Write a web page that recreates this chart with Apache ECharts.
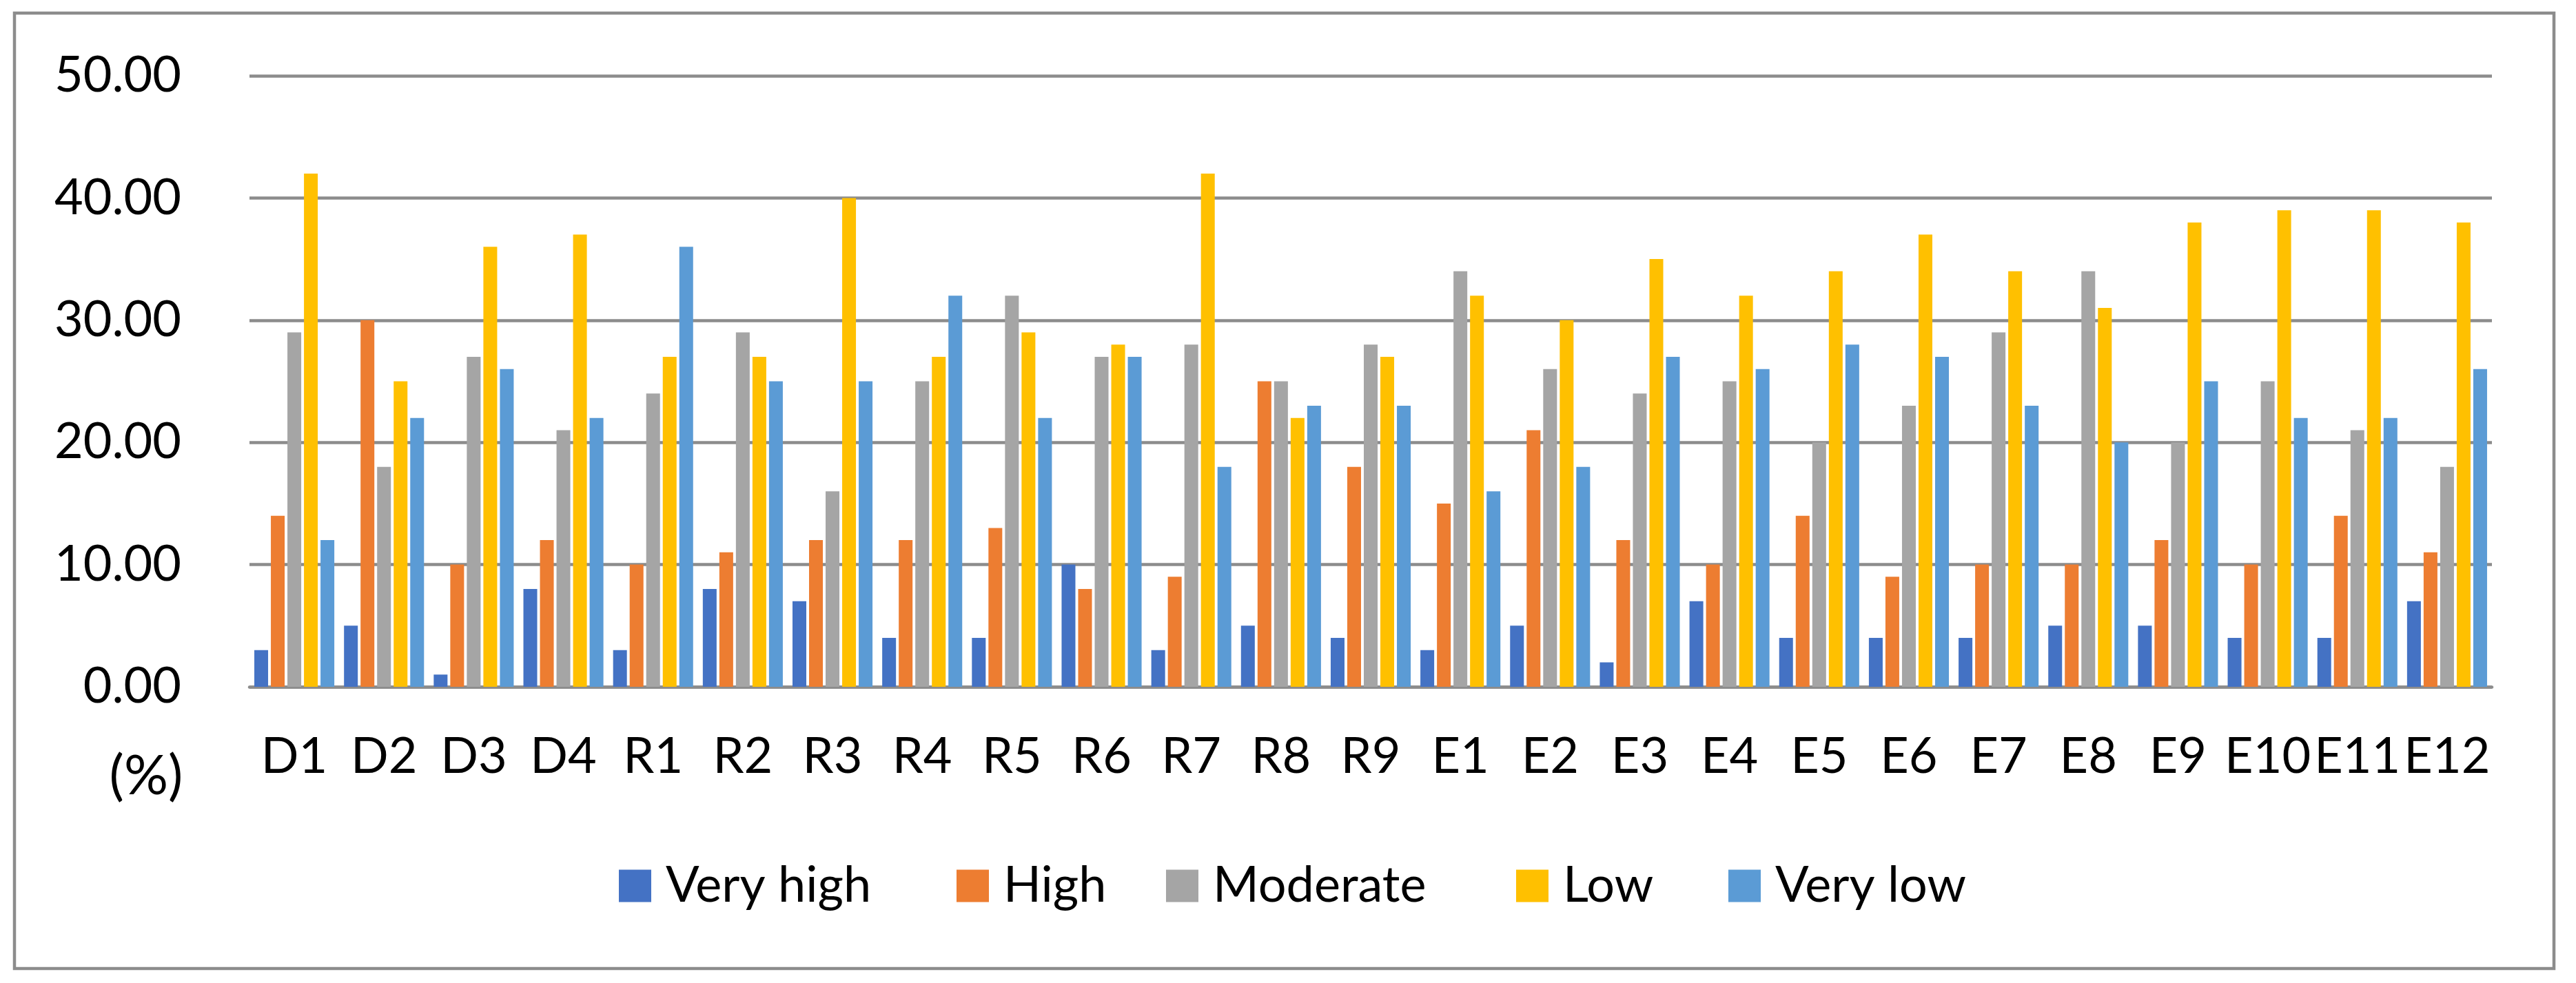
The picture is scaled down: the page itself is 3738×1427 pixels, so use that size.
<!DOCTYPE html>
<html>
<head>
<meta charset="utf-8">
<script src="https://cdn.jsdelivr.net/npm/echarts@6/dist/echarts.min.js"></script>
<style>
html,body{margin:0;padding:0;background:#fff;}
#chart{width:3738px;height:1427px;}
</style>
</head>
<body>
<div id="chart"></div>
<script>
const categories = ['D1','D2','D3','D4','R1','R2','R3','R4','R5','R6','R7','R8','R9','E1','E2','E3','E4','E5','E6','E7','E8','E9','E10','E11','E12'];
const seriesNames = ['Very high','High','Moderate','Low','Very low'];
const veryHigh = [3,5,1,8,3,8,7,4,4,10,3,5,4,3,5,2,7,4,4,4,5,5,4,4,7];
const high     = [14,30,10,12,10,11,12,12,13,8,9,25,18,15,21,12,10,14,9,10,10,12,10,14,11];
const moderate = [29,18,27,21,24,29,16,25,32,27,28,25,28,34,26,24,25,20,23,29,34,20,25,21,18];
const low      = [42,25,36,37,27,27,40,27,29,28,42,22,27,32,30,35,32,34,37,34,31,38,39,39,38];
const veryLow  = [12,22,26,22,36,25,25,32,22,27,18,23,23,16,18,27,26,28,27,23,20,25,22,22,26];
const yTicks = [0,10,20,30,40,50];
const colors = ['#4472C4','#ED7D31','#A5A5A5','#FFC000','#5B9BD5'];
const seriesData = [veryHigh, high, moderate, low, veryLow];
// left edge of each legend item, following the original layout
const legendLefts = [893, 1383, 1687, 2195, 2503];

const FONT = 'Lato';
const FS = 72;
const GRAY = '#8c8c8c';

const chart = echarts.init(document.getElementById('chart'), null, {renderer:'canvas'});
chart.setOption({
  animation: false,
  backgroundColor: '#fff',
  color: colors,
  textStyle: {fontFamily: FONT, color: '#000'},
  grid: {left: 362, right: 122, top: 110, bottom: 430, containLabel: false, outerBoundsMode: 'none'},
  legend: seriesNames.map((n, i) => ({
    data: [n],
    left: legendLefts[i],
    top: 1245,
    icon: 'rect',
    itemWidth: 47,
    itemHeight: 47,
    itemGap: 0,
    textStyle: {fontFamily: FONT, fontSize: FS, color: '#000', padding: [0,0,0,16]}
  })),
  xAxis: {
    type: 'category',
    data: categories,
    axisLine: {show: true, lineStyle: {color: GRAY, width: 4.5}},
    axisTick: {show: false},
    axisLabel: {interval: 0, margin: 66, fontFamily: FONT, fontSize: FS, color: '#000'},
    splitLine: {show: false}
  },
  yAxis: {
    type: 'value',
    min: yTicks[0],
    max: yTicks[yTicks.length-1],
    interval: yTicks[1]-yTicks[0],
    axisLine: {show: false},
    axisTick: {show: false},
    axisLabel: {margin: 99, fontFamily: FONT, fontSize: FS, color: '#000', formatter: v => v.toFixed(2)},
    splitLine: {show: true, lineStyle: {color: GRAY, width: 4.5}}
  },
  graphic: [
    {type: 'rect', shape: {x: 21, y: 19, width: 3685, height: 1387}, style: {fill: 'none', stroke: GRAY, lineWidth: 4.5}, z: -1},
    {type: 'text', x: 212, y: 1127, style: {text: '(%)', fontSize: 80, fontFamily: FONT, fill: '#000', align: 'center', verticalAlign: 'middle'}}
  ],
  series: seriesNames.map((name, i) => ({
    name: name,
    type: 'bar',
    data: seriesData[i],
    barGap: '20%',
    barCategoryGap: '10.8%',
    itemStyle: {color: colors[i]}
  }))
});
</script>
</body>
</html>
